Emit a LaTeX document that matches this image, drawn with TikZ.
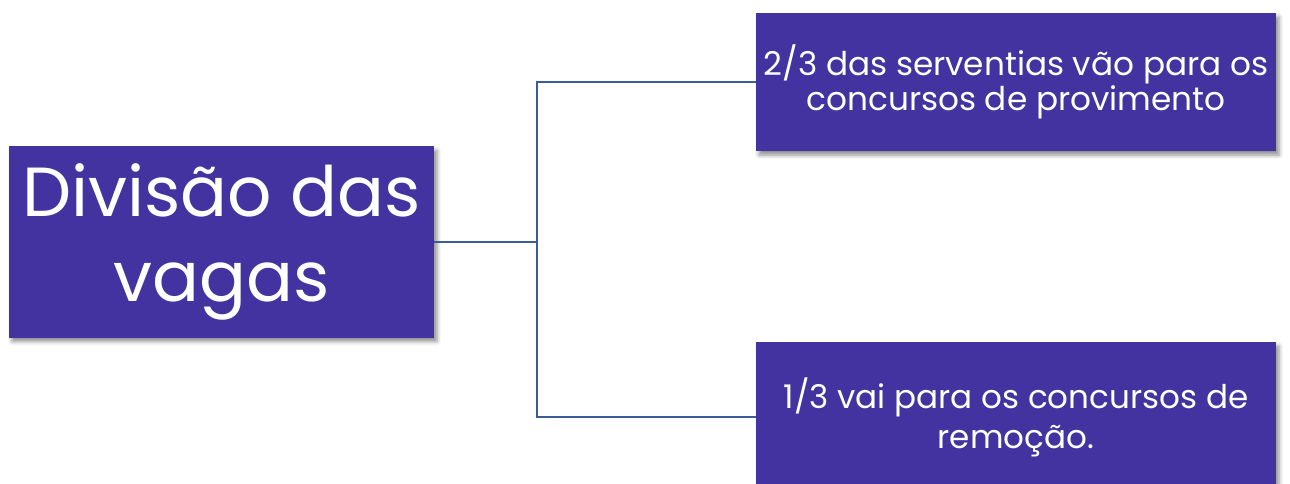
\documentclass[tikz,border=0pt]{standalone}
\usepackage{fontspec}
\setmainfont{Poppins}
\usetikzlibrary{shadows.blur}
\definecolor{boxfill}{RGB}{67,51,160}
\definecolor{linec}{RGB}{58,92,156}
\tikzset{
  box/.style={rectangle, fill=boxfill, text=white, align=center, inner sep=0pt,
    blur shadow={shadow xshift=3pt, shadow yshift=-4pt, shadow blur radius=4pt, shadow opacity=45}},
  conn/.style={draw=linec, line width=2.5pt}
}
\begin{document}
\begin{tikzpicture}[x=1pt,y=-1pt]
\useasboundingbox (0,0) rectangle (1290,484);
\node[box, minimum width=425pt, minimum height=191pt,
  font=\fontsize{69.5}{85}\selectfont] (L) at (221.5,242) {Divisão das\\vagas};
\node[box, minimum width=520pt, minimum height=138pt,
  font=\fontsize{32.7}{32}\selectfont] (T) at (1016,82) {2/3 das serventias vão para os\\concursos de provimento};
\node[box, minimum width=520pt, minimum height=150pt,
  font=\fontsize{32.6}{40}\selectfont] (B) at (1016,417) {1/3 vai para os concursos de\\remoção.};
\coordinate (J) at (537,242);
\draw[conn] (L.east) -- (J);
\draw[conn] (J) |- (T.west);
\draw[conn] (J) |- (B.west);
\end{tikzpicture}
\end{document}
